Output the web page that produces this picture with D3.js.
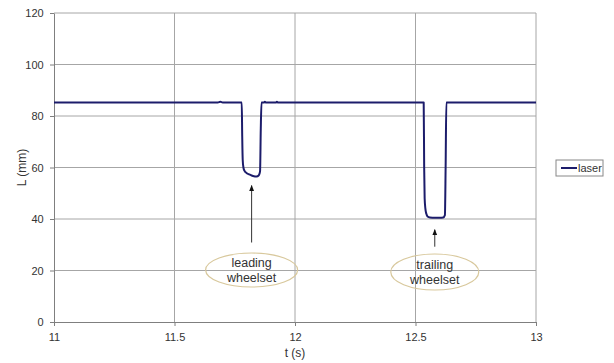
<!DOCTYPE html>
<html>
<head>
<meta charset="utf-8">
<script src="https://cdn.jsdelivr.net/npm/d3@7"></script>
<style>
  body { margin: 0; background: #fff; }
  text { font-family: "Liberation Sans", Arial, sans-serif; }
</style>
</head>
<body>
<div id="chart"></div>
<script>
// laser signal
const tValues = [11.00, 11.30, 11.60, 11.68, 11.69, 11.70, 11.779, 11.781, 11.783, 11.786, 11.79, 11.80, 11.81, 11.82, 11.83, 11.84, 11.85, 11.855, 11.858, 11.861, 11.87, 11.875, 11.88, 11.92, 11.925, 11.93, 12.00, 12.30, 12.534, 12.536, 12.538, 12.541, 12.545, 12.55, 12.56, 12.58, 12.60, 12.615, 12.622, 12.625, 12.628, 12.70, 13.00];
const lValues = [85.2, 85.2, 85.2, 85.2, 85.5, 85.2, 85.2, 72, 63, 60, 58.8, 57.8, 57.3, 56.9, 56.6, 56.5, 57.0, 58.5, 75, 85.2, 85.2, 85.5, 85.2, 85.2, 85.5, 85.2, 85.2, 85.2, 85.2, 60, 48, 44, 42, 41, 40.6, 40.5, 40.5, 40.6, 41.5, 60, 85.2, 85.2, 85.2];
const xTicks = [11, 11.5, 12, 12.5, 13];
const yTicks = [0, 20, 40, 60, 80, 100, 120];
const seriesName = "laser";
const notes = [
  { t: 11.82, tip: 56.5, lines: ["leading", "wheelset"] },
  { t: 12.58, tip: 40.5, lines: ["trailing", "wheelset"] }
];

const W = 614, H = 363;
const margin = { top: 13, right: 78, bottom: 41, left: 54 },
      width = W - margin.left - margin.right,
      height = H - margin.top - margin.bottom;

const svg = d3.select("#chart").append("svg")
  .attr("width", W).attr("height", H);
const g = svg.append("g").attr("transform", `translate(${margin.left},${margin.top})`);

const x = d3.scaleLinear().domain([11, 13]).range([0, width]);
const y = d3.scaleLinear().domain([0, 120]).range([height, 0]);

// grid
g.append("g").selectAll("line").data(yTicks.filter(d => d > 0)).join("line")
  .attr("x1", 0).attr("x2", width)
  .attr("y1", d => y(d)).attr("y2", d => y(d))
  .attr("stroke", "#a6a6a6").attr("stroke-width", 1);
g.append("g").selectAll("line").data(xTicks.filter(d => d > 11)).join("line")
  .attr("x1", d => x(d)).attr("x2", d => x(d))
  .attr("y1", 0).attr("y2", height)
  .attr("stroke", "#a6a6a6").attr("stroke-width", 1);

// axes
const xAxis = g.append("g").attr("transform", `translate(0,${height})`)
  .call(d3.axisBottom(x).tickValues(xTicks).tickSize(4).tickSizeOuter(0).tickFormat(d3.format("")));
const yAxis = g.append("g")
  .call(d3.axisLeft(y).tickValues(yTicks).tickSize(4).tickSizeOuter(0));
[xAxis, yAxis].forEach(a => {
  a.select(".domain").attr("stroke", "#7f7f7f");
  a.selectAll(".tick line").attr("stroke", "#7f7f7f");
  a.selectAll(".tick text").attr("fill", "#333").style("font-size", "11px");
});
xAxis.selectAll(".tick text").attr("dy", "1.1em");
yAxis.selectAll(".tick text").attr("dx", "-0.3em");

// axis titles
svg.append("text").attr("x", margin.left + x(12)).attr("y", 357)
  .attr("text-anchor", "middle").attr("fill", "#333").style("font-size", "12px").text("t (s)");
svg.append("text").attr("transform", `translate(26,${margin.top + height / 2}) rotate(-90)`)
  .attr("text-anchor", "middle").attr("fill", "#333").style("font-size", "12px").text("L (mm)");

// series
const data = tValues.map((t, i) => ({ t, v: lValues[i] }));
g.append("path").datum(data)
  .attr("fill", "none").attr("stroke", "#1c1c6b").attr("stroke-width", 2)
  .attr("stroke-linejoin", "round")
  .attr("d", d3.line().x(d => x(d.t)).y(d => y(d.v)).curve(d3.curveMonotoneX));

// annotations
const ah = svg.append("defs").append("marker").attr("id", "ah")
  .attr("viewBox", "0 0 10 10").attr("refX", 9).attr("refY", 5)
  .attr("markerWidth", 6).attr("markerHeight", 6).attr("orient", "auto");
ah.append("path").attr("d", "M0,1 L10,5 L0,9 z").attr("fill", "#111");

notes.forEach((n, i) => {
  const cx = x(n.t);
  const tipY = y(n.tip) + (i === 0 ? 9 : 12);
  g.append("line").attr("x1", cx).attr("x2", cx)
    .attr("y1", y(n.tip) + (i === 0 ? 66 : 29)).attr("y2", tipY)
    .attr("stroke", "#333").attr("stroke-width", 1).attr("marker-end", "url(#ah)");
  const ey = i === 0 ? 257 : 259;
  g.append("ellipse").attr("cx", cx).attr("cy", ey)
    .attr("rx", i === 0 ? 46 : 44).attr("ry", i === 0 ? 17 : 18)
    .attr("fill", "none").attr("stroke", "#d8c89c").attr("stroke-width", 1.2);
  n.lines.forEach((s, k) => {
    g.append("text").attr("x", cx).attr("y", ey - 3 + k * 15)
      .attr("text-anchor", "middle").attr("fill", "#333").style("font-size", "12.5px").text(s);
  });
});

// legend
const lg = svg.append("g").attr("transform", "translate(556,160)");
lg.append("rect").attr("width", 47).attr("height", 16)
  .attr("fill", "#fff").attr("stroke", "#888").attr("stroke-width", 1);
lg.append("line").attr("x1", 5).attr("x2", 21).attr("y1", 8).attr("y2", 8)
  .attr("stroke", "#1c1c6b").attr("stroke-width", 2);
lg.append("text").attr("x", 22).attr("y", 12).attr("fill", "#333")
  .style("font-size", "11px").text(seriesName);
</script>
</body>
</html>
